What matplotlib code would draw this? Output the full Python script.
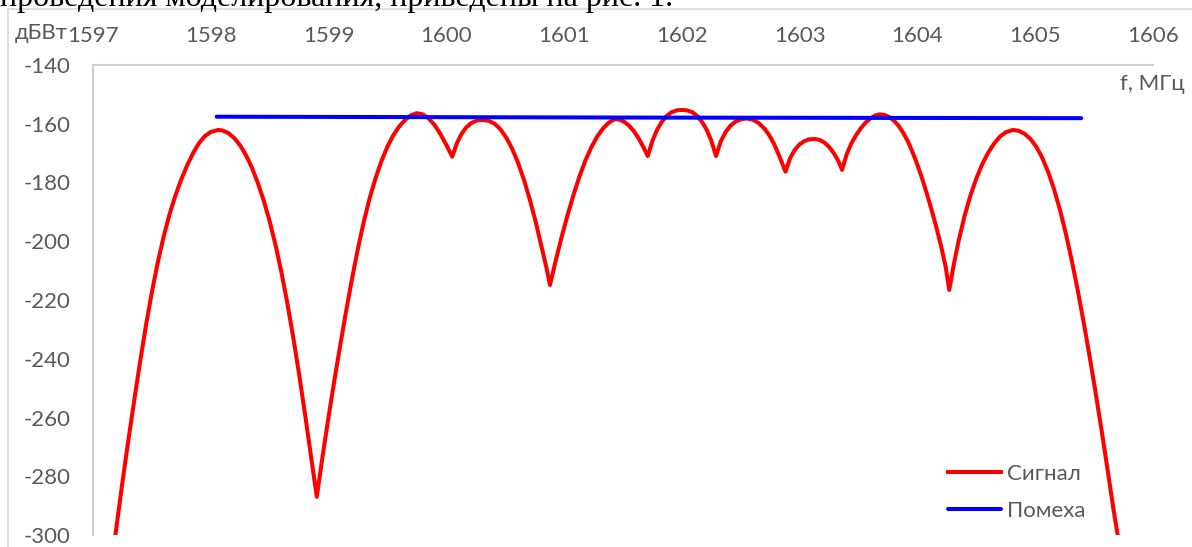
import numpy as np
import matplotlib
matplotlib.use("Agg")
import matplotlib.pyplot as plt
from matplotlib.patches import Rectangle

plt.rcParams['font.family'] = ['Lato', 'DejaVu Sans']
plt.rcParams['axes.unicode_minus'] = False

# Signal spectrum, f in MHz, level in dBW
signal_f = [1597.19, 1597.25, 1597.30, 1597.35, 1597.40, 1597.45, 1597.50, 1597.55, 1597.60, 1597.65,
            1597.70, 1597.75, 1597.80, 1597.85, 1597.90, 1597.95, 1598.00, 1598.065, 1598.10, 1598.15,
            1598.20, 1598.25, 1598.30, 1598.35, 1598.40, 1598.45, 1598.50, 1598.55, 1598.60, 1598.65,
            1598.70, 1598.75, 1598.80, 1598.85, 1598.90,
            1598.95, 1599.00, 1599.05, 1599.10, 1599.15, 1599.20, 1599.25, 1599.30, 1599.35, 1599.40,
            1599.45, 1599.50, 1599.55, 1599.60, 1599.65, 1599.70, 1599.75, 1599.80, 1599.85, 1599.90,
            1599.95, 1600.00, 1600.05,
            1600.09, 1600.13, 1600.17, 1600.21, 1600.26, 1600.31, 1600.36, 1600.41, 1600.46, 1600.51,
            1600.56, 1600.61, 1600.66, 1600.71, 1600.76, 1600.81, 1600.85, 1600.88,
            1600.93, 1600.98, 1601.03, 1601.08, 1601.13, 1601.18, 1601.23, 1601.28, 1601.33, 1601.38,
            1601.43, 1601.47, 1601.51, 1601.55, 1601.59, 1601.63, 1601.67, 1601.71,
            1601.75, 1601.79, 1601.83, 1601.87, 1601.91, 1601.96, 1602.00, 1602.04, 1602.09, 1602.13,
            1602.17, 1602.21, 1602.25, 1602.29,
            1602.33, 1602.37, 1602.41, 1602.45, 1602.50, 1602.55, 1602.60, 1602.65, 1602.70, 1602.74,
            1602.78, 1602.82, 1602.85, 1602.88,
            1602.92, 1602.96, 1603.00, 1603.04, 1603.08, 1603.13, 1603.17, 1603.21, 1603.25, 1603.29,
            1603.33, 1603.36,
            1603.40, 1603.44, 1603.48, 1603.52, 1603.56, 1603.60, 1603.64, 1603.68, 1603.72, 1603.76,
            1603.80, 1603.84, 1603.88, 1603.92, 1603.96, 1604.00, 1604.04, 1604.08, 1604.12, 1604.16,
            1604.20, 1604.24, 1604.27,
            1604.31, 1604.35, 1604.40, 1604.45, 1604.50, 1604.55, 1604.60, 1604.65, 1604.70, 1604.75,
            1604.81, 1604.86, 1604.91, 1604.96, 1605.01, 1605.06, 1605.11, 1605.16, 1605.21, 1605.26,
            1605.31, 1605.36, 1605.41, 1605.46, 1605.51, 1605.56, 1605.61, 1605.66, 1605.70]
signal_db = [-300.0, -282.0, -267.8, -254.2, -241.0, -228.6, -217.3, -207.2, -198.4, -190.8,
             -184.4, -178.9, -174.1, -170.0, -166.6, -164.2, -162.8, -162.1, -162.3, -163.2,
             -164.9, -167.4, -170.8, -175.0, -180.2, -186.2, -193.2, -201.3, -210.6, -221.1,
             -232.7, -245.3, -258.8, -273.0, -287.0,
             -273.0, -259.8, -247.2, -235.2, -223.6, -212.6, -202.4, -193.2, -185.2, -178.4,
             -172.6, -167.8, -163.9, -160.9, -158.7, -157.1, -156.4, -156.8, -158.2, -160.4,
             -163.5, -167.2, -171.2,
             -166.6, -163.4, -161.2, -159.8, -158.9, -158.7, -159.0, -160.0, -161.9, -164.8,
             -168.6, -173.4, -179.2, -186.0, -193.6, -202.2, -209.0, -214.9,
             -206.4, -198.4, -191.0, -184.2, -178.0, -172.6, -168.1, -164.4, -161.6, -159.6,
             -158.4, -158.6, -159.3, -160.6, -162.4, -164.8, -167.7, -171.0,
             -165.8, -162.0, -159.3, -157.4, -156.1, -155.4, -155.3, -155.4, -156.1, -157.4,
             -159.3, -162.0, -165.8, -171.0,
             -166.0, -162.9, -160.8, -159.4, -158.5, -158.2, -158.6, -159.7, -161.6, -163.8,
             -166.7, -170.3, -173.3, -176.3,
             -171.6, -168.8, -167.0, -165.9, -165.3, -165.2, -165.5, -166.4, -167.9, -170.0,
             -172.8, -175.7,
             -170.3, -166.6, -163.8, -161.5, -159.6, -158.2, -157.2, -156.8, -157.0, -157.7,
             -158.9, -160.7, -163.1, -166.1, -169.8, -174.0, -178.7, -183.8, -189.3, -195.2,
             -201.5, -208.8, -216.6,
             -207.6, -199.8, -191.4, -184.4, -178.6, -173.8, -169.9, -166.8, -164.4, -162.9,
             -162.1, -162.4, -163.4, -165.2, -167.9, -171.6, -176.4, -182.3, -189.3, -197.4,
             -206.5, -216.5, -227.3, -238.8, -250.9, -263.5, -276.6, -290.1, -300.0]

# Interference level
noise_f = [1598.05, 1601.70, 1605.39]
noise_db = [-157.6, -157.9, -158.1]

x_ticks = list(range(1597, 1607))
y_ticks = list(range(-300, -139, 20))

text_color = '#595959'
axis_color = '#d0d0d0'
fs = 16

fig = plt.figure(figsize=(11.92, 5.47), dpi=100)
ax = fig.add_axes([93 / 1192, 12 / 547, 1060 / 1192, 470 / 547])

ax.plot(signal_f, signal_db, color='#ff0000', lw=2.9, label='Сигнал', solid_joinstyle='round')
ax.plot(noise_f, noise_db, color='#0000ff', lw=2.9, label='Помеха', solid_capstyle='round')

ax.set_xlim(1597, 1606)
ax.set_ylim(-300, -140)
ax.set_xticks(x_ticks)
ax.set_yticks(y_ticks)
ax.xaxis.tick_top()
ax.tick_params(axis='both', length=0, labelsize=fs, labelcolor=text_color)
ax.tick_params(axis='x', pad=14)
ax.tick_params(axis='y', pad=16)

for side in ['bottom', 'right']:
    ax.spines[side].set_visible(False)
for side in ['top', 'left']:
    ax.spines[side].set_color(axis_color)
    ax.spines[side].set_linewidth(1.5)

fig.text(15 / 1192, 1 - 33 / 547, 'дБВт', fontsize=fs, color=text_color, ha='left', va='center')
fig.text(1185 / 1192, 1 - 84 / 547, 'f, МГц', fontsize=fs, color=text_color, ha='right', va='center')

leg = ax.legend(loc='upper left', bbox_to_anchor=(928 / 1192, 1 - 444 / 547),
                bbox_transform=fig.transFigure, frameon=False, fontsize=fs,
                handlelength=2.4, handletextpad=0.25, labelspacing=0.75)
for t in leg.get_texts():
    t.set_color(text_color)

# chart area border and the line of body text above it
fig.patches.append(Rectangle((8 / 1192, -0.05), 1.1, 1 - 9 / 547 + 0.05, transform=fig.transFigure,
                             fill=False, edgecolor='#d9d9d9', lw=1.2))
fig.text(0.0, 1 - 6 / 547, 'проведения моделирования, приведены на рис. 1.',
         family='Liberation Serif', fontsize=23, color='black', ha='left', va='baseline')

fig.savefig('out.png', dpi=100)
